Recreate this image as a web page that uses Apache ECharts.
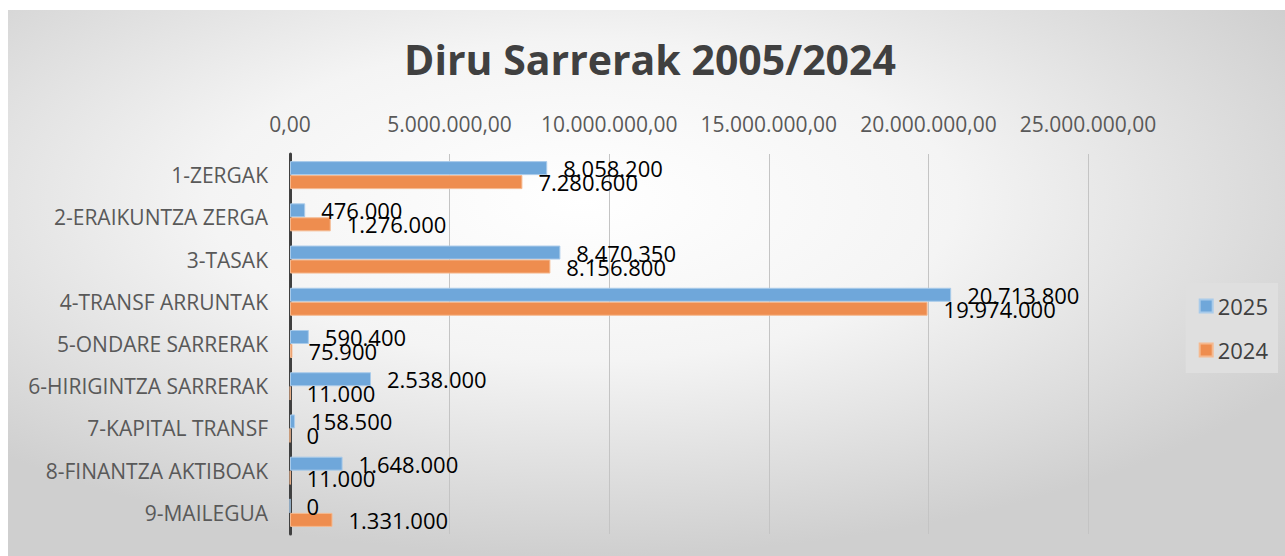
<!DOCTYPE html>
<html>
<head>
<meta charset="utf-8">
<script src="https://cdn.jsdelivr.net/npm/echarts@6/dist/echarts.min.js"></script>
<style>
  html, body { margin: 0; padding: 0; background: #fff; }
  #Chart { width: 1285px; height: 556px; }
</style>
</head>
<body>
<div id="Chart"></div>
<script>
const categories = [
  "1-ZERGAK", "2-ERAIKUNTZA ZERGA", "3-TASAK", "4-TRANSF ARRUNTAK",
  "5-ONDARE SARRERAK", "6-HIRIGINTZA SARRERAK", "7-KAPITAL TRANSF",
  "8-FINANTZA AKTIBOAK", "9-MAILEGUA"
]
const values2025 = [8058200, 476000, 8470350, 20713800, 590400, 2538000, 158500, 1648000, 0]
const values2024 = [7280600, 1276000, 8156800, 19974000, 75900, 11000, 0, 11000, 1331000]

// miles con puntos
const dots = (n) => String(Math.round(n)).replace(/\B(?=(\d{3})+(?!\d))/g, ".")

const chart = echarts.init(document.getElementById("Chart"), null, { renderer: "svg" })
const font = "\"Open Sans\", \"Noto Sans\", sans-serif"

const option = {
  animation: false,
  textStyle: { fontFamily: font },
  graphic: [
    {
      type: "rect",
      z: -10,
      silent: true,
      shape: { x: 8, y: 10, width: 1277, height: 546 },
      style: {
        fill: {
          type: "radial", x: 0.45, y: 0.35, r: 0.65,
          colorStops: [
            { offset: 0, color: "#ffffff" },
            { offset: 0.45, color: "#f4f4f4" },
            { offset: 1, color: "#cfcfcf" }
          ]
        }
      }
    }
  ],
  title: {
    text: "Diru Sarrerak 2005/2024",
    left: 645,
    textAlign: "center",
    top: 33,
    textStyle: { fontSize: 41, fontWeight: "bold", color: "#404040", fontFamily: font }
  },
  legend: {
    orient: "vertical",
    right: 7,
    top: 283,
    padding: [12, 10, 12, 13],
    backgroundColor: "#dfdfdf",
    itemWidth: 13,
    itemHeight: 13,
    itemGap: 22,
    icon: "rect",
    textStyle: { fontSize: 22, color: "#404040", fontFamily: font },
    data: ["2025", "2024"]
  },
  grid: { left: 290, right: 197, top: 154, bottom: 22 },
  xAxis: {
    type: "value",
    position: "top",
    min: 0,
    max: 25000000,
    interval: 5000000,
    axisLine: { show: false },
    axisTick: { show: false },
    splitLine: { lineStyle: { color: "#c4c4c4", width: 1 } },
    axisLabel: {
      margin: 20,
      fontSize: 21,
      color: "#595959",
      formatter: (v) => dots(v) + ",00"
    }
  },
  yAxis: {
    type: "category",
    inverse: true,
    data: categories,
    axisTick: { show: false },
    axisLine: { lineStyle: { color: "#404040", width: 3 } },
    axisLabel: { margin: 22, fontSize: 21, color: "#595959" }
  },
  series: [
    {
      name: "2025",
      type: "bar",
      barWidth: 14,
      barGap: "0%",
      itemStyle: { color: "#6fa7da", borderColor: "#a9cbea", borderWidth: 1 },
      label: {
        show: true, position: "right", distance: 16,
        fontSize: 22, color: "#000", formatter: (p) => dots(p.value)
      },
      data: values2025
    },
    {
      name: "2024",
      type: "bar",
      barWidth: 14,
      barGap: "0%",
      itemStyle: { color: "#ee8d4f", borderColor: "#f5b98f", borderWidth: 1 },
      label: {
        show: true, position: "right", distance: 16,
        fontSize: 22, color: "#000", formatter: (p) => dots(p.value)
      },
      data: values2024
    }
  ]
}
chart.setOption(option)
</script>
</body>
</html>
